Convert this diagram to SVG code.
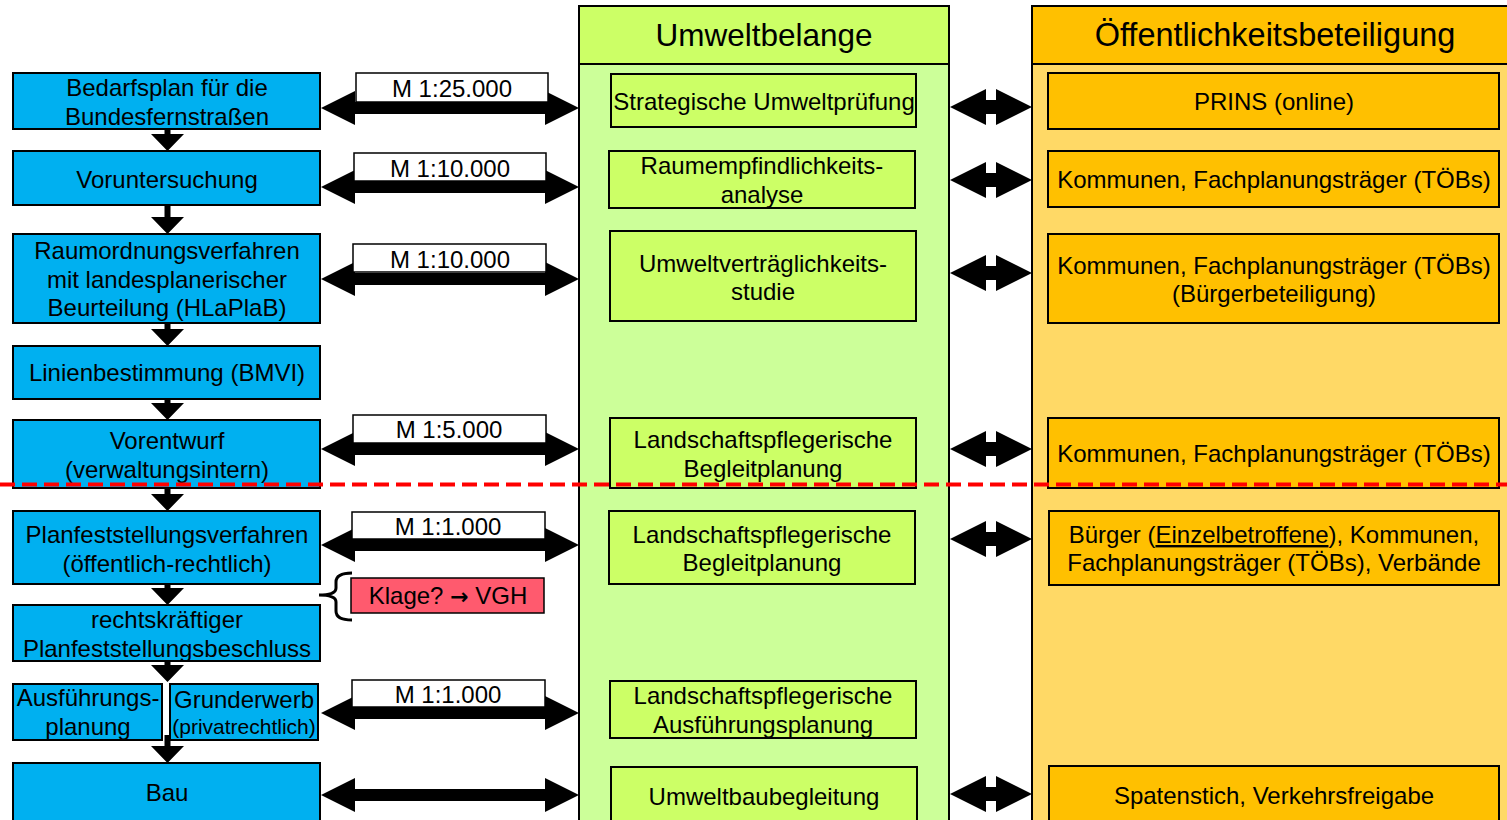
<svg xmlns="http://www.w3.org/2000/svg" xmlns:xlink="http://www.w3.org/1999/xlink" width="1507" height="820" viewBox="0 0 1507 820">
<defs>
<style>
.t{font-family:"Liberation Sans",Arial,sans-serif;font-size:24px;fill:#000;text-anchor:middle}
.h{font-size:31.5px}
.s{font-size:21px}
.blue{fill:#00B0F0;stroke:#000;stroke-width:2}
.gbox{fill:#CCFF66;stroke:#000;stroke-width:2}
.obox{fill:#FFC000;stroke:#000;stroke-width:2}
.lbl{fill:#fff;stroke:#000;stroke-width:1.5}
.arr{fill:#000}
.sym{font-family:"DejaVu Sans",sans-serif;font-weight:bold;font-size:22px}
</style>
<path id="la" d="M321,0 L355,-17 L355,-6 L545,-6 L545,-17 L579,0 L545,17 L545,6 L355,6 L355,17 Z"/>
<path id="ra" d="M950,0 L986,-18 L986,-7 L996,-7 L996,-18 L1032,0 L996,18 L996,7 L986,7 L986,18 Z"/>
</defs>
<rect width="1507" height="820" fill="#fff"/>

<g id="col-umwelt">
<rect x="579" y="6" width="370" height="830" fill="#CCFF99" stroke="#000" stroke-width="2"/>
<rect x="579" y="6" width="370" height="58" fill="#CCFF66" stroke="#000" stroke-width="2"/>
<text class="t h" x="764" y="46">Umweltbelange</text>
</g>
<g id="col-oeff">
<rect x="1032" y="6" width="490" height="830" fill="#FFD966" stroke="#000" stroke-width="2"/>
<rect x="1032" y="6" width="490" height="58" fill="#FFC000" stroke="#000" stroke-width="2"/>
<text class="t h" x="1275" y="46" style="font-size:32.5px">Öffentlichkeitsbeteiligung</text>
</g>

<g id="n-bedarfsplan"><rect class="blue" x="13" y="73" width="307" height="56"/><text class="t" x="167" y="96">Bedarfsplan für die</text><text class="t" x="167" y="125">Bundesfernstraßen</text></g>
<g id="n-voruntersuchung"><rect class="blue" x="13" y="151" width="307" height="54"/><text class="t" x="167" y="188">Voruntersuchung</text></g>
<g id="n-raumordnung"><rect class="blue" x="13" y="234" width="307" height="89"/><text class="t" x="167" y="259">Raumordnungsverfahren</text><text class="t" x="167" y="288">mit landesplanerischer</text><text class="t" x="167" y="316">Beurteilung (HLaPlaB)</text></g>
<g id="n-linien"><rect class="blue" x="13" y="346" width="307" height="53"/><text class="t" x="167" y="381">Linienbestimmung (BMVI)</text></g>
<g id="n-vorentwurf"><rect class="blue" x="13" y="420" width="307" height="68"/><text class="t" x="167" y="449">Vorentwurf</text><text class="t" x="167" y="478">(verwaltungsintern)</text></g>
<g id="n-planfest"><rect class="blue" x="13" y="511" width="307" height="73"/><text class="t" x="167" y="543">Planfeststellungsverfahren</text><text class="t" x="167" y="572">(öffentlich-rechtlich)</text></g>
<g id="n-beschluss"><rect class="blue" x="13" y="605" width="307" height="56"/><text class="t" x="167" y="628">rechtskräftiger</text><text class="t" x="167" y="657">Planfeststellungsbeschluss</text></g>
<g id="n-ausfuehrung"><rect class="blue" x="13" y="684" width="149" height="56"/><text class="t" x="88" y="706">Ausführungs-</text><text class="t" x="88" y="735">planung</text></g>
<g id="n-grunderwerb"><rect class="blue" x="170" y="684" width="148" height="56"/><text class="t" x="244" y="708">Grunderwerb</text><text class="t s" x="244" y="734">(privatrechtlich)</text></g>
<g id="n-bau"><rect class="blue" x="13" y="763" width="307" height="70"/><text class="t" x="167" y="801">Bau</text></g>

<g id="n-klage">
<path d="M352,573 Q336,573 336,582 L336,588 Q336,595 319,595 Q336,595 336,602 L336,611 Q336,620 352,620" fill="none" stroke="#000" stroke-width="3"/>
<rect x="351" y="578" width="193" height="35" fill="#FF5A6E" stroke="#000" stroke-width="1.5"/>
<text class="t" x="448" y="604">Klage? <tspan class="sym">→</tspan> VGH</text>
</g>

<g id="g-sup"><rect class="gbox" x="611" y="74" width="305" height="53"/><text class="t" x="764" y="110">Strategische Umweltprüfung</text></g>
<g id="g-rea"><rect class="gbox" x="609" y="151" width="306" height="57"/><text class="t" x="762" y="174">Raumempfindlichkeits-</text><text class="t" x="762" y="203">analyse</text></g>
<g id="g-uvs"><rect class="gbox" x="610" y="231" width="306" height="90"/><text class="t" x="763" y="272">Umweltverträglichkeits-</text><text class="t" x="763" y="300">studie</text></g>
<g id="g-lbp1"><rect class="gbox" x="610" y="418" width="306" height="70"/><text class="t" x="763" y="448">Landschaftspflegerische</text><text class="t" x="763" y="477">Begleitplanung</text></g>
<g id="g-lbp2"><rect class="gbox" x="609" y="511" width="306" height="73"/><text class="t" x="762" y="543">Landschaftspflegerische</text><text class="t" x="762" y="571">Begleitplanung</text></g>
<g id="g-lap"><rect class="gbox" x="610" y="681" width="306" height="57"/><text class="t" x="763" y="704">Landschaftspflegerische</text><text class="t" x="763" y="733">Ausführungsplanung</text></g>
<g id="g-ubb"><rect class="gbox" x="611" y="767" width="306" height="70"/><text class="t" x="764" y="805">Umweltbaubegleitung</text></g>

<g id="o-prins"><rect class="obox" x="1048" y="73" width="451" height="56"/><text class="t" x="1274" y="110">PRINS (online)</text></g>
<g id="o-kom1"><rect class="obox" x="1048" y="151" width="451" height="56"/><text class="t" x="1274" y="188">Kommunen, Fachplanungsträger (TÖBs)</text></g>
<g id="o-kom2"><rect class="obox" x="1048" y="234" width="451" height="89"/><text class="t" x="1274" y="274">Kommunen, Fachplanungsträger (TÖBs)</text><text class="t" x="1274" y="302">(Bürgerbeteiligung)</text></g>
<g id="o-kom3"><rect class="obox" x="1048" y="418" width="451" height="70"/><text class="t" x="1274" y="462">Kommunen, Fachplanungsträger (TÖBs)</text></g>
<g id="o-buerger"><rect class="obox" x="1049" y="511" width="450" height="74"/><text class="t" x="1274" y="543">Bürger (<tspan style="text-decoration:underline">Einzelbetroffene</tspan>), Kommunen,</text><text class="t" x="1274" y="571">Fachplanungsträger (TÖBs), Verbände</text></g>
<g id="o-spaten"><rect class="obox" x="1049" y="766" width="450" height="70"/><text class="t" x="1274" y="804">Spatenstich, Verkehrsfreigabe</text></g>

<g id="connectors">
<g class="arr">
<path d="M164.5,129 H170.5 V134 H184 L167.5,151 L151,134 H164.5 Z"/>
<path d="M164.5,205 H170.5 V217 H184 L167.5,234 L151,217 H164.5 Z"/>
<path d="M164.5,323 H170.5 V329 H184 L167.5,346 L151,329 H164.5 Z"/>
<path d="M164.5,399 H170.5 V403 H184 L167.5,420 L151,403 H164.5 Z"/>
<path d="M164.5,488 H170.5 V494 H184 L167.5,511 L151,494 H164.5 Z"/>
<path d="M164.5,584 H170.5 V588 H184 L167.5,605 L151,588 H164.5 Z"/>
<path d="M164.5,661 H170.5 V665 H184 L167.5,682 L151,665 H164.5 Z"/>
<path d="M164.5,735 H170.5 V746 H184 L167.5,763 L151,746 H164.5 Z"/>
<use xlink:href="#la" href="#la" y="108"/>
<use xlink:href="#la" href="#la" y="187"/>
<use xlink:href="#la" href="#la" y="279"/>
<use xlink:href="#la" href="#la" y="449"/>
<use xlink:href="#la" href="#la" y="545"/>
<use xlink:href="#la" href="#la" y="713"/>
<use xlink:href="#la" href="#la" y="795"/>
<use xlink:href="#ra" href="#ra" y="107"/>
<use xlink:href="#ra" href="#ra" y="180"/>
<use xlink:href="#ra" href="#ra" y="273"/>
<use xlink:href="#ra" href="#ra" y="449"/>
<use xlink:href="#ra" href="#ra" y="539"/>
<use xlink:href="#ra" href="#ra" y="794"/>
</g>
<g id="scale-labels">
<rect class="lbl" x="356" y="73" width="192" height="29"/><text class="t" x="452" y="97">M 1:25.000</text>
<rect class="lbl" x="354" y="153" width="192" height="28"/><text class="t" x="450" y="177">M 1:10.000</text>
<rect class="lbl" x="353" y="244" width="193" height="28"/><text class="t" x="450" y="268">M 1:10.000</text>
<rect class="lbl" x="353" y="415" width="193" height="28"/><text class="t" x="449" y="438">M 1:5.000</text>
<rect class="lbl" x="352" y="512" width="193" height="27"/><text class="t" x="448" y="535">M 1:1.000</text>
<rect class="lbl" x="352" y="680" width="193" height="27"/><text class="t" x="448" y="703">M 1:1.000</text>
</g>
</g>

<line id="grenze" x1="0" y1="484.5" x2="1507" y2="484.5" stroke="#FF0000" stroke-width="4" stroke-dasharray="15 7"/>
</svg>
